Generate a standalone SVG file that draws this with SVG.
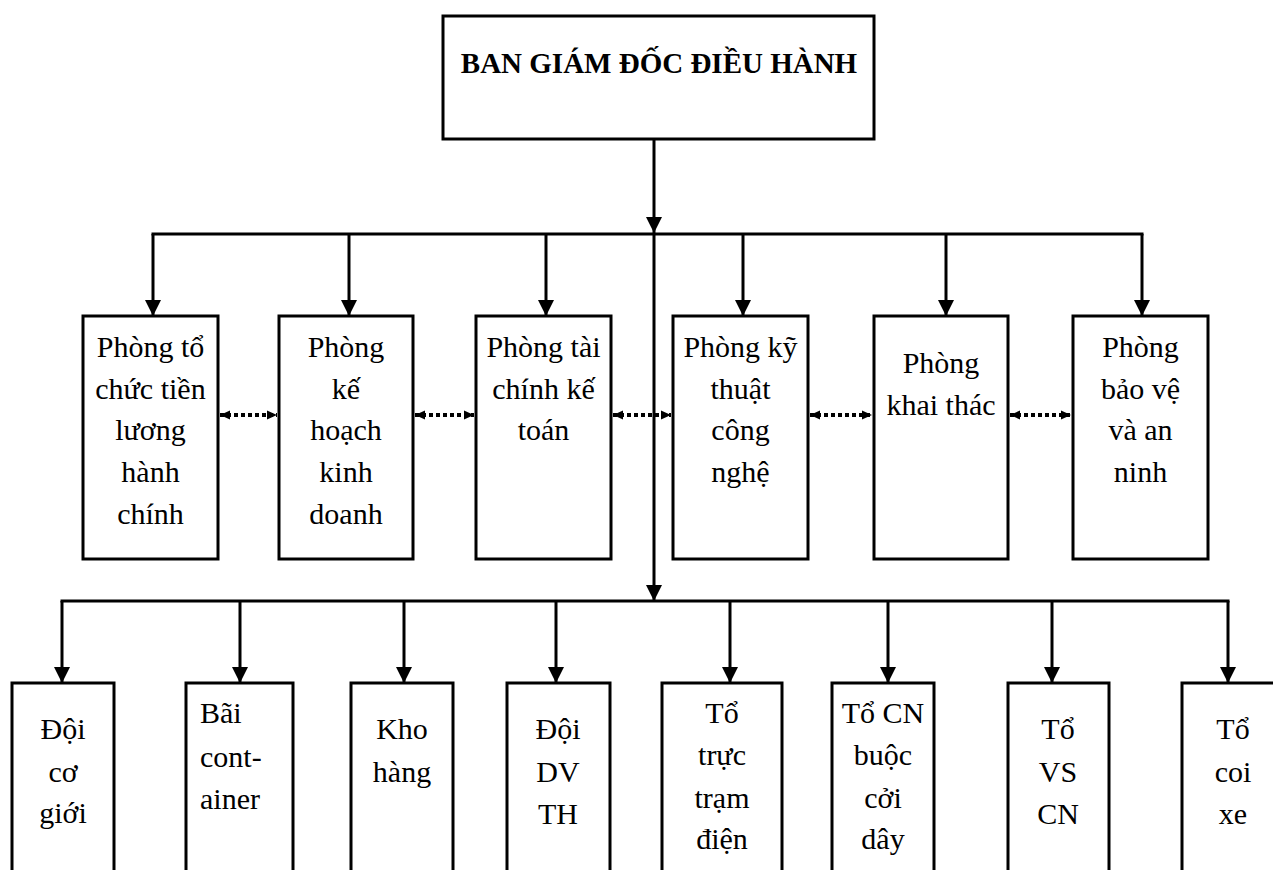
<svg xmlns="http://www.w3.org/2000/svg" width="1273" height="870" viewBox="0 0 1273 870">
<style>
.box{fill:#fff;stroke:#000;stroke-width:3}
.t{font-family:"Liberation Serif","Times New Roman",serif;font-size:30px;fill:#000;text-anchor:middle}
.title{font-family:"Liberation Serif","Times New Roman",serif;font-size:29px;font-weight:bold;fill:#000;text-anchor:middle}
.c{stroke:#000;stroke-width:3;fill:none}
.arr{marker-end:url(#ah)}
.dot{stroke:#000;stroke-width:4;stroke-dasharray:4 3;fill:none;marker-start:url(#sh);marker-end:url(#sh)}
</style>
<defs>
<marker id="ah" markerUnits="userSpaceOnUse" markerWidth="16" markerHeight="16" viewBox="0 0 15 15" refX="15" refY="7.5" orient="auto">
<path d="M0,0 L15,7.5 L0,15 z" fill="#000"/>
</marker>
<marker id="sh" markerUnits="userSpaceOnUse" markerWidth="10" markerHeight="10" viewBox="0 0 10 9" refX="10" refY="4.5" orient="auto-start-reverse">
<path d="M0,0 L10,4.5 L0,9 z" fill="#000"/>
</marker>
</defs>
<rect width="1273" height="870" fill="#fff"/>

<g id="connectors">
<line class="c arr" x1="654" y1="139" x2="654" y2="233"/>
<line class="c" x1="151.5" y1="234" x2="1143.5" y2="234"/>
<line class="c arr" x1="153" y1="234" x2="153" y2="316"/>
<line class="c arr" x1="349" y1="234" x2="349" y2="316"/>
<line class="c arr" x1="546" y1="234" x2="546" y2="316"/>
<line class="c arr" x1="743" y1="234" x2="743" y2="316"/>
<line class="c arr" x1="946" y1="234" x2="946" y2="316"/>
<line class="c arr" x1="1142" y1="234" x2="1142" y2="316"/>
<line class="c arr" x1="654" y1="234" x2="654" y2="601"/>
<line class="c" x1="60.5" y1="601" x2="1229.5" y2="601"/>
<line class="c arr" x1="62" y1="601" x2="62" y2="683"/>
<line class="c arr" x1="240" y1="601" x2="240" y2="683"/>
<line class="c arr" x1="404" y1="601" x2="404" y2="683"/>
<line class="c arr" x1="556" y1="601" x2="556" y2="683"/>
<line class="c arr" x1="730" y1="601" x2="730" y2="683"/>
<line class="c arr" x1="888" y1="601" x2="888" y2="683"/>
<line class="c arr" x1="1052" y1="601" x2="1052" y2="683"/>
<line class="c arr" x1="1228" y1="601" x2="1228" y2="683"/>
<line class="dot" x1="220" y1="415" x2="277" y2="415"/>
<line class="dot" x1="415" y1="415" x2="474" y2="415"/>
<line class="dot" x1="613" y1="415" x2="671" y2="415"/>
<line class="dot" x1="810" y1="415" x2="872" y2="415"/>
<line class="dot" x1="1010" y1="415" x2="1071" y2="415"/>
</g>

<g id="bgd">
<rect class="box" x="443" y="16" width="431" height="123"/>
<text class="title" x="659" y="73">BAN GIÁM ĐỐC ĐIỀU HÀNH</text>
</g>

<g id="p1">
<rect class="box" x="83" y="316" width="135" height="243"/>
<text class="t"><tspan x="150.5" y="357">Phòng tổ</tspan><tspan x="150.5" y="399">chức tiền</tspan><tspan x="150.5" y="440">lương</tspan><tspan x="150.5" y="482">hành</tspan><tspan x="150.5" y="524">chính</tspan></text>
</g>
<g id="p2">
<rect class="box" x="279" y="316" width="134" height="243"/>
<text class="t"><tspan x="346" y="357">Phòng</tspan><tspan x="346" y="399">kế</tspan><tspan x="346" y="440">hoạch</tspan><tspan x="346" y="482">kinh</tspan><tspan x="346" y="524">doanh</tspan></text>
</g>
<g id="p3">
<rect class="box" x="476" y="316" width="135" height="243"/>
<text class="t"><tspan x="543.5" y="357">Phòng tài</tspan><tspan x="543.5" y="399">chính kế</tspan><tspan x="543.5" y="440">toán</tspan></text>
</g>
<g id="p4">
<rect class="box" x="673" y="316" width="135" height="243"/>
<text class="t"><tspan x="740.5" y="357">Phòng kỹ</tspan><tspan x="740.5" y="399">thuật</tspan><tspan x="740.5" y="440">công</tspan><tspan x="740.5" y="482">nghệ</tspan></text>
</g>
<g id="p5">
<rect class="box" x="874" y="316" width="134" height="243"/>
<text class="t"><tspan x="941" y="373">Phòng</tspan><tspan x="941" y="415">khai thác</tspan></text>
</g>
<g id="p6">
<rect class="box" x="1073" y="316" width="135" height="243"/>
<text class="t"><tspan x="1140.5" y="357">Phòng</tspan><tspan x="1140.5" y="399">bảo vệ</tspan><tspan x="1140.5" y="440">và an</tspan><tspan x="1140.5" y="482">ninh</tspan></text>
</g>

<g id="d1">
<rect class="box" x="12" y="683" width="102" height="200"/>
<text class="t"><tspan x="63" y="739">Đội</tspan><tspan x="63" y="782">cơ</tspan><tspan x="63" y="823">giới</tspan></text>
</g>
<g id="d2">
<rect class="box" x="186" y="683" width="107" height="200"/>
<text class="t" style="text-anchor:start"><tspan x="200" y="723">Bãi</tspan><tspan x="200" y="767">cont-</tspan><tspan x="200" y="809">ainer</tspan></text>
</g>
<g id="d3">
<rect class="box" x="351" y="683" width="102" height="200"/>
<text class="t"><tspan x="402" y="739">Kho</tspan><tspan x="402" y="782">hàng</tspan></text>
</g>
<g id="d4">
<rect class="box" x="507" y="683" width="103" height="200"/>
<text class="t"><tspan x="558" y="739">Đội</tspan><tspan x="558" y="782">DV</tspan><tspan x="558" y="824">TH</tspan></text>
</g>
<g id="d5">
<rect class="box" x="662" y="683" width="120" height="200"/>
<text class="t"><tspan x="722" y="723">Tổ</tspan><tspan x="722" y="765">trực</tspan><tspan x="722" y="808">trạm</tspan><tspan x="722" y="849">điện</tspan></text>
</g>
<g id="d6">
<rect class="box" x="832" y="683" width="102" height="200"/>
<text class="t"><tspan x="883" y="723">Tổ CN</tspan><tspan x="883" y="765">buộc</tspan><tspan x="883" y="808">cởi</tspan><tspan x="883" y="849">dây</tspan></text>
</g>
<g id="d7">
<rect class="box" x="1008" y="683" width="101" height="200"/>
<text class="t"><tspan x="1058" y="739">Tổ</tspan><tspan x="1058" y="782">VS</tspan><tspan x="1058" y="824">CN</tspan></text>
</g>
<g id="d8">
<rect class="box" x="1182" y="683" width="110" height="200"/>
<text class="t"><tspan x="1233" y="739">Tổ</tspan><tspan x="1233" y="782">coi</tspan><tspan x="1233" y="824">xe</tspan></text>
</g>
</svg>
